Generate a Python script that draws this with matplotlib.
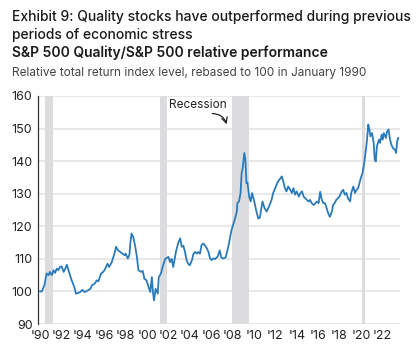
import matplotlib.pyplot as plt

plt.rcParams['font.family'] = ['Inter', 'DejaVu Sans']

# relative performance index
years = [1990.0, 1990.15, 1990.4, 1990.6, 1990.8, 1990.9, 1991.1, 1991.25, 1991.4, 1991.55,
         1991.7, 1991.85, 1992.0, 1992.2, 1992.35, 1992.5, 1992.65, 1992.95, 1993.2, 1993.35,
         1993.6, 1993.75, 1993.95, 1994.15, 1994.35, 1994.7, 1994.85, 1995.1, 1995.3, 1995.45,
         1995.7, 1995.9, 1996.05, 1996.3, 1996.45, 1996.7, 1996.95, 1997.1, 1997.3, 1997.5,
         1997.7, 1997.9, 1998.0, 1998.2, 1998.35, 1998.45, 1998.55, 1998.7, 1998.9, 1999.05,
         1999.2, 1999.45, 1999.6, 1999.75, 1999.95, 2000.1, 2000.3, 2000.45, 2000.55, 2000.65,
         2000.8, 2001.0, 2001.1, 2001.3, 2001.5, 2001.7, 2002.0, 2002.15, 2002.3, 2002.45,
         2002.7, 2002.9, 2003.1, 2003.25, 2003.4, 2003.55, 2003.7, 2003.85, 2004.0, 2004.2,
         2004.35, 2004.5, 2004.65, 2004.8, 2004.95, 2005.1, 2005.25, 2005.4, 2005.6, 2005.75,
         2005.9, 2006.05, 2006.2, 2006.35, 2006.5, 2006.6, 2006.8, 2006.95, 2007.1, 2007.35,
         2007.6, 2007.75, 2007.9, 2008.05, 2008.2, 2008.4, 2008.45, 2008.6, 2008.75, 2008.85,
         2008.95, 2009.1, 2009.2, 2009.3, 2009.4, 2009.55, 2009.7, 2009.82, 2010.0, 2010.2,
         2010.4, 2010.55, 2010.8, 2011.0, 2011.2, 2011.4, 2011.65, 2011.8, 2012.05, 2012.25,
         2012.5, 2012.6, 2012.75, 2012.9, 2013.05, 2013.2, 2013.4, 2013.55, 2013.7, 2013.85,
         2014.0, 2014.2, 2014.35, 2014.5, 2014.65, 2014.8, 2014.95, 2015.1, 2015.25, 2015.4,
         2015.6, 2015.75, 2015.9, 2016.05, 2016.2, 2016.35, 2016.5, 2016.65, 2016.8, 2016.95,
         2017.1, 2017.3, 2017.4, 2017.55, 2017.7, 2017.85, 2018.0, 2018.2, 2018.35, 2018.5,
         2018.65, 2018.8, 2019.0, 2019.1, 2019.3, 2019.45, 2019.6, 2019.75, 2020.0, 2020.15,
         2020.3, 2020.4, 2020.55, 2020.7, 2020.8, 2020.9, 2021.05, 2021.2, 2021.3, 2021.4,
         2021.5, 2021.7, 2021.8, 2021.95, 2022.05, 2022.15, 2022.35, 2022.45, 2022.6, 2022.7,
         2022.85, 2023.0, 2023.2, 2023.3, 2023.4, 2023.5]
values = [100.0, 100.0, 101.9, 105.5, 105.0, 106.0, 105.0, 106.5, 105.7, 107.0,
          106.5, 107.5, 107.7, 106.0, 107.0, 108.2, 106.5, 103.4, 101.3, 99.3,
          99.6, 99.8, 100.5, 99.8, 100.1, 100.8, 101.9, 102.4, 103.4, 103.1,
          105.5, 106.0, 106.7, 108.5, 107.5, 109.0, 111.6, 113.7, 112.6, 112.1,
          111.6, 111.1, 111.6, 110.1, 111.2, 115.2, 117.8, 116.8, 113.7, 110.6,
          106.5, 106.0, 106.3, 103.9, 103.4, 101.9, 99.8, 104.4, 99.8, 97.2,
          100.8, 99.3, 104.4, 105.5, 108.0, 110.0, 110.6, 109.0, 110.0, 107.5,
          112.1, 114.7, 116.3, 113.7, 114.0, 112.1, 109.6, 108.5, 108.0, 109.6,
          111.6, 112.1, 111.6, 112.1, 111.6, 114.2, 114.7, 114.2, 113.2, 112.1,
          110.1, 109.6, 110.1, 109.9, 110.4, 110.6, 112.6, 110.4, 110.1, 110.4,
          113.7, 116.3, 118.8, 120.4, 122.0, 124.5, 127.1, 127.6, 130.2, 136.3,
          137.9, 142.5, 140.4, 133.2, 133.4, 129.1, 127.6, 130.2, 128.1, 125.0,
          122.4, 122.6, 127.6, 125.5, 124.5, 126.0, 128.1, 130.2, 132.2, 133.7,
          134.8, 135.3, 133.7, 131.7, 130.7, 132.2, 131.2, 130.2, 131.7, 129.7,
          130.7, 129.1, 130.2, 130.7, 129.1, 128.6, 128.1, 127.6, 128.1, 127.1,
          126.5, 127.1, 127.6, 127.1, 130.6, 128.1, 127.1, 127.1, 125.5, 124.0,
          122.9, 124.5, 126.5, 127.1, 128.1, 128.6, 129.1, 130.6, 131.2, 129.7,
          130.2, 128.6, 127.6, 130.2, 132.2, 130.2, 131.2, 131.7, 134.8, 136.3,
          138.9, 141.5, 145.6, 151.2, 149.7, 147.6, 148.6, 145.6, 140.4, 139.9,
          144.5, 146.6, 145.6, 148.1, 146.6, 148.6, 147.1, 149.1, 149.7, 147.1,
          145.1, 144.0, 143.5, 142.5, 146.1, 147.1]

# US recessions (start, end)
recessions = [(1990.5, 1991.2), (2001.2, 2001.9), (2007.92, 2009.5), (2020.1, 2020.35)]

tick_years = list(range(1990, 2023, 2))
tick_labels = ["'%02d" % (y % 100) for y in tick_years]
y_ticks = [90, 100, 110, 120, 130, 140, 150, 160]

fig = plt.figure(figsize=(4.2, 3.52), dpi=100)
ax = fig.add_axes([0.0905, 0.0795, 0.8615, 0.648])

for start, end in recessions:
    ax.axvspan(start, end, color='#dcdcdf', lw=0, zorder=1)

ax.plot(years, values, color='#2b7bbb', lw=1.3, zorder=3)

ax.set_xlim(1989.8, 2023.65)
ax.set_ylim(90, 160)
ax.set_yticks(y_ticks)
ax.set_xticks(tick_years)
ax.set_xticklabels(tick_labels)
ax.tick_params(length=0, labelsize=9, colors='#222222', pad=4)
ax.grid(axis='y', color='#e2e2e2', lw=1.1, zorder=0)
ax.set_axisbelow(True)
for s in ['top', 'right', 'bottom']:
    ax.spines[s].set_visible(False)
ax.spines['left'].set_color('#333333')
ax.spines['left'].set_linewidth(0.9)

ax.text(2004.8, 157.2, 'Recession', ha='center', va='center', fontsize=8.5, color='#222222')
ax.annotate('', xy=(2007.45, 151.3), xytext=(2006.1, 154.6),
            arrowprops=dict(arrowstyle='->', color='#222222', lw=0.9,
                            connectionstyle='arc3,rad=-0.35',
                            shrinkA=0, shrinkB=0))

fig.text(0.029, 0.952, 'Exhibit 9: Quality stocks have outperformed during previous',
         fontsize=10, fontweight='medium', color='#1a1a1a', va='center')
fig.text(0.029, 0.900, 'periods of economic stress',
         fontsize=10, fontweight='medium', color='#1a1a1a', va='center')
fig.text(0.029, 0.849, 'S&P 500 Quality/S&P 500 relative performance',
         fontsize=10, fontweight='semibold', color='#1a1a1a', va='center')
fig.text(0.029, 0.793, 'Relative total return index level, rebased to 100 in January 1990',
         fontsize=8.5, color='#444444', va='center')

fig.savefig('out.png', dpi=100)
